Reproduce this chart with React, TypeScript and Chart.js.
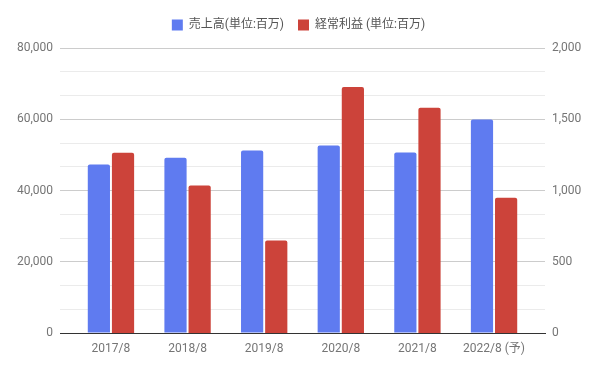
import React, { useEffect, useRef } from "react";
import { Chart, registerables } from "chart.js";

Chart.register(...registerables);

const categories = ["2017/8", "2018/8", "2019/8", "2020/8", "2021/8", "2022/8 (予)"];
const salesLabel = "売上高(単位:百万)";
const profitLabel = "経常利益 (単位:百万)";
const sales = [47300, 49200, 51200, 52600, 50700, 59900];
const profit = [1265, 1035, 650, 1727, 1580, 950];
const leftTickLabels = [0, 20000, 40000, 60000, 80000];
const rightTickLabels = [0, 500, 1000, 1500, 2000];

const FONT = "Roboto, 'Noto Sans CJK JP', sans-serif";

const legendSpacer = {
  id: "legendSpacer",
  beforeInit(chart: any) {
    const orig = chart.legend.fit;
    chart.legend.fit = function () {
      orig.call(this);
      this.height += 7;
    };
  },
};

export default function App() {
  const ref = useRef<HTMLCanvasElement | null>(null);
  useEffect(() => {
    document.body.style.margin = "0";
    const ctx = ref.current!;
    const chart = new Chart(ctx, {
      type: "bar",
      data: {
        datasets: [
          {
            label: salesLabel,
            data: sales.map((v, i) => ({ x: i, y: v })),
            backgroundColor: "#5f7bf0",
            yAxisID: "y",
            borderRadius: 2,
            borderSkipped: "bottom",
            categoryPercentage: 0.63,
            barPercentage: 0.92,
          },
          {
            label: profitLabel,
            data: profit.map((v, i) => ({ x: i, y: v })),
            backgroundColor: "#cc433a",
            yAxisID: "y1",
            borderRadius: 2,
            borderSkipped: "bottom",
            categoryPercentage: 0.63,
            barPercentage: 0.92,
          },
        ],
      },
      plugins: [legendSpacer],
      options: {
        animation: false,
        responsive: false,
        maintainAspectRatio: false,
        layout: { padding: { top: 5, bottom: 0 } },
        plugins: {
          tooltip: { enabled: false },
          legend: {
            position: "top",
            labels: {
              font: { family: FONT, size: 12 },
              color: "#555",
              boxWidth: 11,
              boxHeight: 11,
              padding: 14,
            },
          },
        },
        scales: {
          x: {
            type: "linear",
            min: -0.665,
            max: categories.length - 1 + 0.665,
            offset: false,
            grid: { display: false },
            border: { display: true, color: "#333", width: 1 },
            afterBuildTicks: (s: any) => {
              s.ticks = categories.map((_, i) => ({ value: i }));
            },
            ticks: {
              font: { family: FONT, size: 12 },
              color: "#757575",
              padding: 1,
              maxRotation: 0,
              autoSkip: false,
              callback: (v: any) => categories[Math.round(Number(v))] ?? "",
            },
            afterFit: (s: any) => { s.height = 35; },
          },
          y: {
            position: "left",
            min: leftTickLabels[0],
            max: leftTickLabels[leftTickLabels.length - 1],
            border: { display: false },
            grid: {
              drawTicks: false,
              color: (c: any) => (c.index === 0 ? "#333" : c.index % 3 === 0 ? "#cccccc" : "#ebebeb"),
            },
            ticks: {
              count: (leftTickLabels.length - 1) * 3 + 1,
              padding: 7,
              font: { family: FONT, size: 12 },
              color: "#757575",
              callback: (v: any, i: number) => (i % 3 === 0 ? Math.round(Number(v)).toLocaleString("en-US") : ""),
            },
            afterFit: (s: any) => { s.width = 60; },
          },
          y1: {
            position: "right",
            min: rightTickLabels[0],
            max: rightTickLabels[rightTickLabels.length - 1],
            border: { display: false },
            grid: { display: false, drawTicks: false },
            ticks: {
              count: (rightTickLabels.length - 1) * 3 + 1,
              padding: 7,
              font: { family: FONT, size: 12 },
              color: "#757575",
              callback: (v: any, i: number) => (i % 3 === 0 ? Math.round(Number(v)).toLocaleString("en-US") : ""),
            },
            afterFit: (s: any) => { s.width = 52; },
          },
        },
      },
    });
    return () => chart.destroy();
  }, []);
  return (
    <div style={{ position: "absolute", left: 0, top: 0, width: 597, height: 368 }}>
      <canvas ref={ref} width={597} height={368} style={{ width: 597, height: 368 }} />
    </div>
  );
}
